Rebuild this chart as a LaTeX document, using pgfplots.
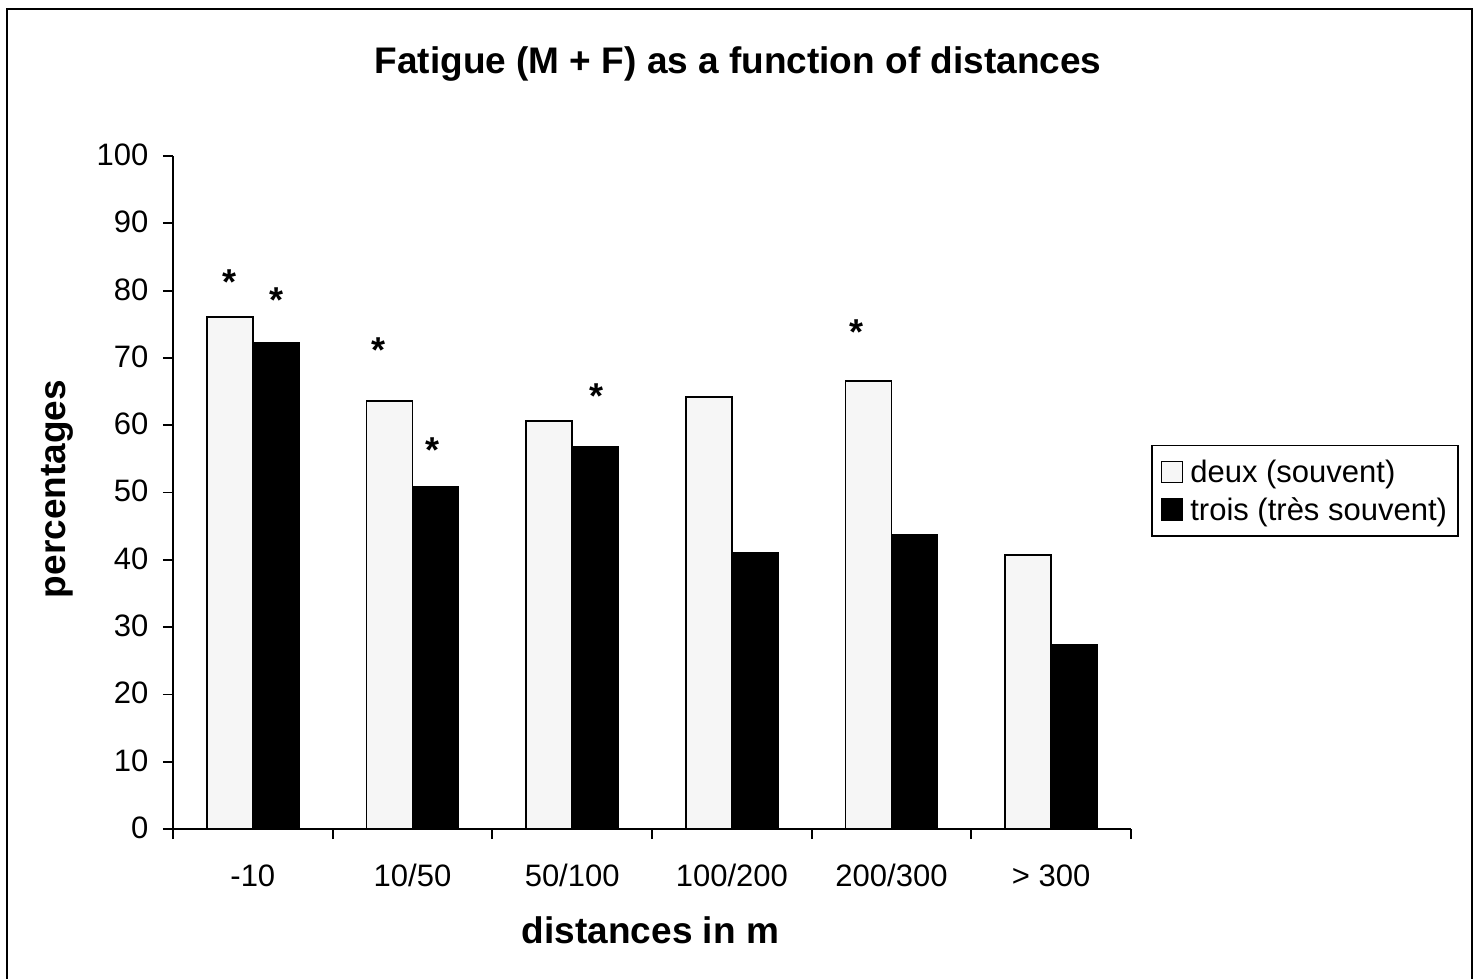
\documentclass[border=0pt]{standalone}
\usepackage{fontspec}
\setmainfont{Liberation Sans}
\usepackage{pgfplots}
\pgfplotsset{compat=1.18}
\definecolor{lightbar}{RGB}{246,246,246}
\pgfplotsset{mylegend/.style={legend image code/.code={\draw[##1, line width=1.3pt] (0pt,-10.5pt) rectangle (21pt,10.5pt);\path (26pt,0pt);}}}
\begin{document}
\begin{tikzpicture}
\path[use as bounding box] (0pt,0pt) rectangle (1479pt,-978pt);
\draw[line width=2pt] (7pt,-9.3pt) rectangle (1471.7pt,-1000pt);
\begin{axis}[
  at={(173pt,-829pt)}, anchor=south west,
  width=958pt, height=673pt, scale only axis,
  xmin=-0.5, xmax=5.5, ymin=0, ymax=100,
  axis lines=left,
  axis line style={-, line width=1.8pt},
  every tick/.style={black, line width=1.8pt},
  tick align=outside,
  major tick length=10pt,
  minor tick length=10pt,
  ytick={0,10,...,100},
  xtick={0,...,5},
  xticklabels={-10,10/50,50/100,100/200,200/300,> 300},
  minor xtick={-0.5,0.5,...,5.5},
  major x tick style={draw=none},
  /pgf/number format/assume math mode=true,
  tick label style={font=\fontsize{31}{37}\selectfont},
  typeset ticklabels with strut,
  yticklabel style={xshift=-11pt, yshift=-2pt},
  xticklabel style={yshift=-18pt},
  xlabel={distances in m},
  xlabel style={at={(axis description cs:0.4984,-0.1694)}, anchor=base, font=\bfseries\fontsize{37}{44}\selectfont},
  ylabel={percentages},
  ylabel style={at={(axis description cs:-0.1117,0.505)}, anchor=base, font=\bfseries\fontsize{37}{44}\selectfont},
  legend style={at={(1.0209,0.5706)}, anchor=north west, draw=black, line width=1.5pt,
    font=\fontsize{31}{37}\selectfont, inner xsep=9pt, inner ysep=12.5pt, row sep=9pt},
  legend cell align=left,
]
\addplot[ybar, bar width=46pt, bar shift=-23pt, fill=lightbar, draw=black, line width=1.8pt, mylegend]
  coordinates {(0,76.1) (1,63.6) (2,60.6) (3,64.2) (4,66.6) (5,40.7)};
\addplot[ybar, bar width=46pt, bar shift=23pt, fill=black, draw=black, line width=1.8pt, mylegend]
  coordinates {(0,72.2) (1,50.8) (2,56.8) (3,41.0) (4,43.7) (5,27.3)};
\addplot[only marks, mark=text, text mark={*}, text mark as node=true,
  text mark style={font=\bfseries\fontsize{36}{40}\selectfont, anchor=center, inner sep=0pt, yshift=-4pt}, forget plot]
  coordinates {(-0.149,81.9) (0.151,79.2) (0.784,71.8) (1.128,56.9) (2.155,64.9) (3.778,74.4)};
\legend{deux (souvent), trois (très souvent)}
\end{axis}
\node[font=\bfseries\fontsize{37}{44}\selectfont, anchor=base] at (738pt,-73pt) {Fatigue (M + F) as a function of distances};
\end{tikzpicture}
\end{document}
